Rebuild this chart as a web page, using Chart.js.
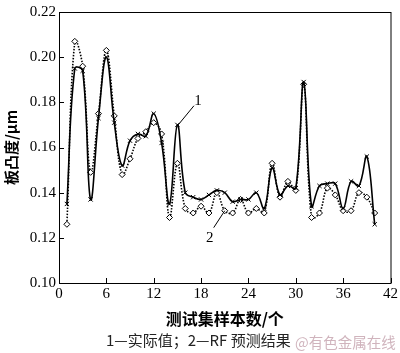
<!DOCTYPE html>
<html>
<head>
<meta charset="utf-8">
<script src="https://cdn.jsdelivr.net/npm/chart.js@4.4.1/dist/chart.umd.min.js"></script>
<style>
  html, body { margin: 0; padding: 0; background: #fff; }
  #wrap { position: relative; width: 400px; height: 353px; }
  #caption { position: absolute; left: 106px; top: 329px; font: 15px/22px "Noto Sans CJK SC", serif; color: #222; white-space: nowrap; }
  #mark { position: absolute; left: 295px; top: 331px; font: 14.5px/22px "Noto Sans CJK SC", sans-serif; color: #d0b4bd; white-space: nowrap; }
</style>
</head>
<body>
<div id="wrap">
  <canvas id="myChart" width="400" height="353"></canvas>
  <div id="caption">1—实际值；2—RF 预测结果</div>
  <div id="mark">@有色金属在线</div>
</div>
<script>
// data
let sampleNo = [1, 2, 3, 4, 5, 6, 7, 8, 9, 10, 11, 12, 13, 14, 15, 16, 17, 18, 19, 20,
  21, 22, 23, 24, 25, 26, 27, 28, 29, 30, 31, 32, 33, 34, 35, 36, 37, 38, 39, 40];
let actual = [0.135, 0.195, 0.194, 0.137, 0.173, 0.200, 0.171, 0.152, 0.163, 0.166,
  0.165, 0.175, 0.162, 0.135, 0.170, 0.140, 0.138, 0.137, 0.139, 0.141,
  0.140, 0.136, 0.137, 0.137, 0.140, 0.133, 0.151, 0.139, 0.143, 0.142,
  0.189, 0.134, 0.143, 0.144, 0.144, 0.133, 0.145, 0.143, 0.156, 0.126];
let rfPred = [0.126, 0.207, 0.196, 0.149, 0.175, 0.203, 0.174, 0.148, 0.155, 0.164,
  0.167, 0.171, 0.166, 0.129, 0.153, 0.133, 0.131, 0.134, 0.131, 0.140,
  0.132, 0.131, 0.137, 0.131, 0.133, 0.131, 0.153, 0.138, 0.145, 0.141,
  0.188, 0.129, 0.131, 0.142, 0.139, 0.132, 0.132, 0.140, 0.138, 0.131];
let xTicks = [0, 6, 12, 18, 24, 30, 36, 42];
let yTicks = [0.10, 0.12, 0.14, 0.16, 0.18, 0.20, 0.22];

const serif = '"Liberation Serif", "Times New Roman", serif';

// box + inward ticks + labels 1 / 2
const frame = {
  id: 'frame',
  afterDraw(chart) {
    const c = chart.ctx, a = chart.chartArea;
    const xs = chart.scales.x, ys = chart.scales.y;
    c.save();
    c.strokeStyle = '#000';
    c.lineWidth = 1;
    c.strokeRect(a.left + 0.5, a.top + 0.5, a.right - a.left, a.bottom - a.top);
    c.beginPath();
    xTicks.forEach(v => {
      const px = Math.round(xs.getPixelForValue(v)) + 0.5;
      c.moveTo(px, a.bottom); c.lineTo(px, a.bottom - 5);
    });
    yTicks.forEach(v => {
      const py = Math.round(ys.getPixelForValue(v)) + 0.5;
      c.moveTo(a.left, py); c.lineTo(a.left + 5, py);
    });
    c.stroke();

    // leader lines
    c.font = '15px ' + serif;
    c.fillStyle = '#000';
    c.textAlign = 'center';
    c.textBaseline = 'middle';
    c.beginPath();
    c.moveTo(xs.getPixelForValue(17.1), ys.getPixelForValue(0.1785));
    c.lineTo(xs.getPixelForValue(15.1), ys.getPixelForValue(actual[14]));
    c.moveTo(xs.getPixelForValue(19.6), ys.getPixelForValue(0.1245));
    c.lineTo(xs.getPixelForValue(21), ys.getPixelForValue(rfPred[20]));
    c.stroke();
    c.fillText('1', xs.getPixelForValue(17.6), ys.getPixelForValue(0.1805));
    c.fillText('2', xs.getPixelForValue(19.1), ys.getPixelForValue(0.1198));
    c.restore();
  }
};

let ctx = document.getElementById('myChart').getContext('2d');
let myChart = new Chart(ctx, {
  type: 'line',
  data: {
    labels: sampleNo,
    datasets: [{
      label: '实际值',
      data: actual,
      borderColor: '#000',
      borderWidth: 1.6,
      tension: 0.4,
      pointStyle: 'crossRot',
      pointRadius: 3,
      pointBorderWidth: 1,
      pointBorderColor: '#000',
      pointBackgroundColor: '#000'
    }, {
      label: 'RF 预测结果',
      data: rfPred,
      borderColor: '#000',
      borderWidth: 1.6,
      borderDash: [1.5, 1.5],
      tension: 0.4,
      pointStyle: 'rectRot',
      pointRadius: 3,
      pointBorderWidth: 1,
      pointBorderColor: '#000',
      pointBackgroundColor: '#fff'
    }]
  },
  options: {
    responsive: false,
    animation: false,
    events: [],
    layout: { padding: { top: 7, right: 7, left: 0, bottom: 24 } },
    plugins: { legend: { display: false }, tooltip: { enabled: false } },
    scales: {
      x: {
        type: 'linear',
        min: 0, max: 42,
        afterBuildTicks: (s) => { s.ticks = xTicks.map(v => ({ value: v })); },
        afterFit: (s) => { s.height = 46; },
        grid: { display: false, drawTicks: false },
        border: { display: false },
        ticks: { color: '#000', padding: 2, maxRotation: 0, font: { family: serif, size: 15 } },
        title: { display: true, text: '测试集样本数/个', color: '#000', padding: { top: 0, bottom: 0 },
          font: { family: '"Noto Sans CJK SC"', size: 16, weight: 'bold' } }
      },
      y: {
        min: 0.10, max: 0.22,
        afterBuildTicks: (s) => { s.ticks = yTicks.map(v => ({ value: v })); },
        afterFit: (s) => { s.width = 59; },
        grid: { display: false, drawTicks: false },
        border: { display: false },
        ticks: { color: '#000', padding: 3, font: { family: serif, size: 15 },
          callback: (v) => v.toFixed(2) },
        title: { display: true, text: '板凸度/μm', color: '#000', padding: { top: 2, bottom: 0 },
          font: { family: '"Noto Sans CJK SC"', size: 15, weight: 'bold' } }
      }
    }
  },
  plugins: [frame]
});
</script>
</body>
</html>
